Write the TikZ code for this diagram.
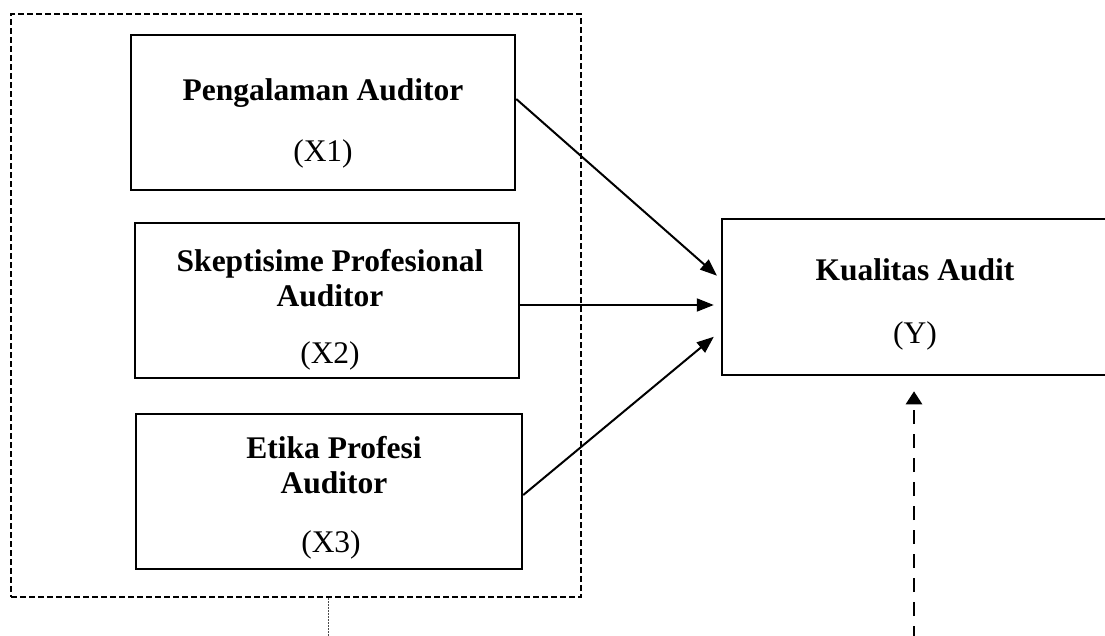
\documentclass[tikz,border=0pt]{standalone}
\usepackage{fontspec}
\setmainfont{Liberation Serif}
\usetikzlibrary{arrows.meta}
\begin{document}
\begin{tikzpicture}[x=1pt,y=-1pt,
  box/.style={draw,line width=2.5pt,rectangle,inner sep=0pt},
  frame/.style={draw,line width=2.4pt,rectangle,inner sep=0pt,dash pattern=on 6pt off 3pt},
  txt/.style={anchor=base,inner sep=0pt,font=\fontsize{31.5}{36}\selectfont},
  btxt/.style={txt,font=\fontsize{31.5}{36}\selectfont\bfseries},
  link/.style={line width=2pt,-{Triangle[length=17pt,width=13pt]}},
  dlink/.style={line width=2.6pt,dash pattern=on 14pt off 10pt,-{Triangle[length=13pt,width=16pt]}}]
\useasboundingbox (0,0) rectangle (1105,635);

% grouping frame of the independent variables
\node[frame,minimum width=570pt,minimum height=583pt] (grp) at (296,305.5) {};

% variable boxes
\node[box,minimum width=384pt,minimum height=155pt] (x1) at (323,112.5) {};
\node[box,minimum width=384pt,minimum height=155pt] (x2) at (327,300.5) {};
\node[box,minimum width=386pt,minimum height=155pt] (x3) at (329,491.5) {};
\node[box,minimum width=388pt,minimum height=156pt] (y) at (916,297) {};

% box texts
\node[btxt] (t1a) at (323,100) {Pengalaman Auditor};
\node[txt]  (t1b) at (323,161) {(X1)};
\node[btxt] (t2a) at (330,271) {Skeptisime Profesional};
\node[btxt] (t2b) at (330,306) {Auditor};
\node[txt]  (t2c) at (330,363) {(X2)};
\node[btxt] (t3a) at (334,458) {Etika Profesi};
\node[btxt] (t3b) at (334,493) {Auditor};
\node[txt]  (t3c) at (331,552) {(X3)};
\node[btxt] (tya) at (915,280) {Kualitas Audit};
\node[txt]  (tyb) at (915,343) {(Y)};

% influence arrows
\draw[link,shorten >=5pt] ([yshift=13.5pt]x1.east) -- ([yshift=18pt]y.west);
\draw[link,shorten >=7pt] ([yshift=-4.5pt]x2.east) -- ([yshift=-8pt]y.west);
\draw[link,shorten >=9pt] ([yshift=-3.5pt]x3.east) -- ([yshift=-34pt]y.west);

% dashed arrow from below and dotted stub under the frame
\coordinate (dbot) at (914,640);
\draw[dlink,shorten >=15pt] (dbot) -- (dbot |- y.south);
\coordinate (sbot) at (328,640);
\draw[line width=1pt,dash pattern=on 1.5pt off 1.5pt,black!70] (sbot |- grp.south) -- (sbot);
\end{tikzpicture}
\end{document}
